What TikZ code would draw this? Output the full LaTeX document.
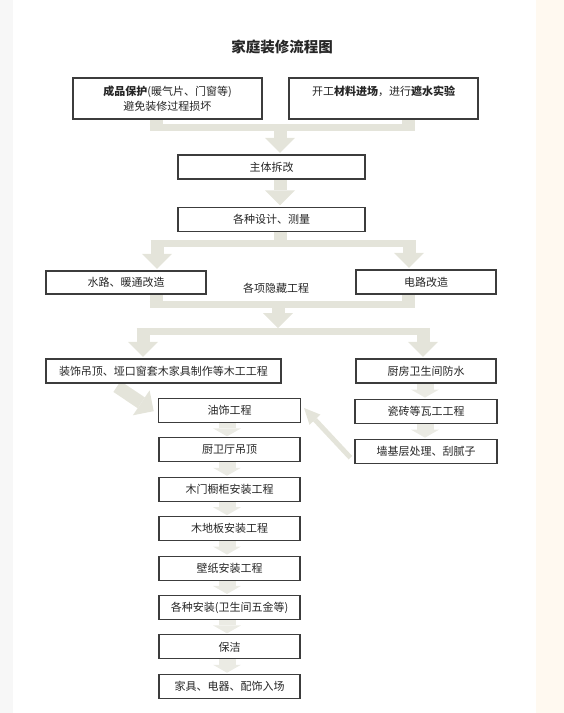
\documentclass[tikz,border=0pt]{standalone}
\usepackage{fontspec}
\setmainfont{Noto Sans CJK SC}
\usetikzlibrary{positioning,arrows.meta,backgrounds}
\definecolor{boxline}{RGB}{60,60,60}
\definecolor{pipe}{RGB}{228,228,218}
\definecolor{softpipe}{RGB}{235,235,228}
\definecolor{cream}{RGB}{255,249,240}
\definecolor{ink}{RGB}{38,38,38}

\begin{document}
\begin{tikzpicture}[x=1pt, y=-1pt,
  box/.style={draw=boxline, line width=1.1pt, fill=white, text=ink, inner sep=0pt, minimum height=24pt, font=\fontsize{11}{15}\selectfont, align=center},
  stub/.style={draw=pipe, line width=13pt},
  band/.style={draw=pipe, line width=7pt},
  fat/.style={draw=pipe, line width=13pt, -{Triangle[width=30pt,length=15pt,line width=0pt]}, shorten >=1.5pt},
  soft/.style={draw=softpipe, line width=17pt, -{Triangle[width=28pt,length=8pt,line width=0pt]}, shorten >=1pt},
  slim/.style={draw=pipe, line width=5pt, -{Triangle[width=15pt,length=16pt,line width=0pt]}}]

\useasboundingbox (0,0) rectangle (564,713);

\node[text=ink, font=\fontsize{14.5}{17}\selectfont\bfseries] (title) at (282,47) {家庭装修流程图};

\node[box, minimum width=189pt, minimum height=41pt] (protect) at (167.5,98.5) {\textbf{成品保护}(暖气片、门窗等)\\避免装修过程损坏};
\node[box, minimum width=189pt, minimum height=41pt] (material) at (383.5,98.5) {开工\textbf{材料进场}，进行\textbf{遮水实验}\\\mbox{}};
\node[box, minimum width=187pt] (demolish) at (271.5,167) {主体拆改};
\node[box, minimum width=187pt] (design) at (271.5,219.5) {各种设计、测量};
\node[box, minimum width=160pt, minimum height=23pt] (water) at (126,282.5) {水路、暖通改造};
\node[box, minimum width=140pt] (electric) at (426,282) {电路改造};
\node[text=ink, font=\fontsize{11}{15}\selectfont] (hidden) at (276,288) {各项隐藏工程};
\node[box, minimum width=235pt] (carpentry) at (163.5,371) {装饰吊顶、垭口窗套木家具制作等木工工程};
\node[box, minimum width=140pt] (waterproof) at (426,371) {厨房卫生间防水};
\node[box, minimum width=142pt, below=15pt of waterproof] (tile) {瓷砖等瓦工工程};
\node[box, minimum width=142pt, below=15pt of tile] (wallbase) {墙基层处理、刮腻子};
\node[box, minimum width=142pt] (paint) at (229.5,410.5) {油饰工程};
\node[box, minimum width=141pt, below=14.3pt of paint] (ceiling) {厨卫厅吊顶};
\node[box, minimum width=141pt, below=14.3pt of ceiling] (cabinet) {木门橱柜安装工程};
\node[box, minimum width=141pt, below=14.3pt of cabinet] (floor) {木地板安装工程};
\node[box, minimum width=141pt, below=14.3pt of floor] (wallpaper) {壁纸安装工程};
\node[box, minimum width=141pt, below=14.3pt of wallpaper] (install) {各种安装(卫生间五金等)};
\node[box, minimum width=141pt, below=14.3pt of install] (clean) {保洁};
\node[box, minimum width=141pt, below=14.3pt of clean] (furniture) {家具、电器、配饰入场};

\begin{scope}[on background layer]
\fill[black!3] (0,0) rectangle (13,713);
\fill[cream] (536,0) rectangle (564,713);

\coordinate (m1l) at (156,127);
\coordinate (m1r) at (408.5,127);
\coordinate (m1) at (280,127);
\draw[stub] (protect.south -| m1l) -- ([yshift=-3.5pt]m1l);
\draw[stub] (material.south -| m1r) -- ([yshift=-3.5pt]m1r);
\draw[band] ([xshift=-6.5pt]m1l) -- ([xshift=6.5pt]m1r);
\draw[fat] ([yshift=3.5pt]m1) -- (demolish.north -| m1);

\draw[fat] (demolish.south -| m1) -- (design.north -| m1);

\coordinate (s1l) at (157,243.5);
\coordinate (s1r) at (409,243.5);
\coordinate (s1) at (280,243.5);
\draw[stub] (design.south -| s1) -- ([yshift=-3.5pt]s1);
\draw[band] ([xshift=-6.5pt]s1l) -- ([xshift=6.5pt]s1r);
\draw[fat] ([yshift=3.5pt]s1l) -- (water.north -| s1l);
\draw[fat] ([yshift=3.5pt]s1r) -- (electric.north -| s1r);

\coordinate (m2l) at (156,304.5);
\coordinate (m2r) at (408.5,304.5);
\coordinate (m2) at (278,304.5);
\draw[stub] (water.south -| m2l) -- ([yshift=-3.5pt]m2l);
\draw[stub] (electric.south -| m2r) -- ([yshift=-3.5pt]m2r);
\draw[band] ([xshift=-6.5pt]m2l) -- ([xshift=6.5pt]m2r);

\coordinate (s2l) at (143,331.5);
\coordinate (s2r) at (423,331.5);
\coordinate (s2) at (278,331.5);
\draw[fat, shorten >=0pt] ([yshift=3.5pt]m2) -- ([yshift=3.5pt]s2);
\draw[band] ([xshift=-6.5pt]s2l) -- ([xshift=6.5pt]s2r);
\draw[fat] ([yshift=3.5pt]s2l) -- (carpentry.north -| s2l);
\draw[fat] ([yshift=3.5pt]s2r) -- (waterproof.north -| s2r);

\draw[fat] ([xshift=-46.5pt,yshift=-3pt]carpentry.south) -- ([xshift=-3pt,yshift=-1.5pt]paint.west);
\draw[slim] ([xshift=-4pt,yshift=-6.5pt]wallbase.west) -- ([xshift=3pt,yshift=2.5pt]paint.east);

\foreach \a/\b in {paint/ceiling,ceiling/cabinet,cabinet/floor,floor/wallpaper,wallpaper/install,install/clean,clean/furniture}
  \draw[soft] ([xshift=-2.5pt]\a.south) -- ([xshift=-2.5pt]\b.north);
\foreach \a/\b in {waterproof/tile,tile/wallbase}
  \draw[soft] ([xshift=-1pt]\a.south) -- ([xshift=-1pt]\b.north);
\end{scope}
\end{tikzpicture}
\end{document}
